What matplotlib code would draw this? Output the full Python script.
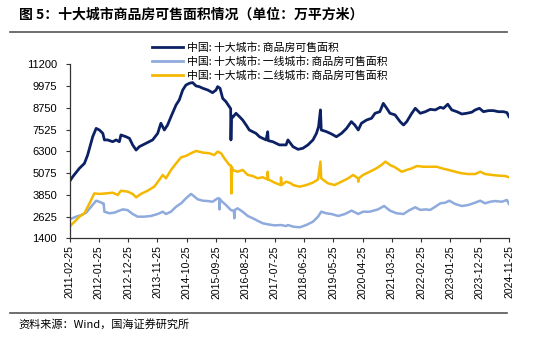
import matplotlib
matplotlib.use("Agg")
import matplotlib.pyplot as plt
from matplotlib.lines import Line2D

plt.rcParams['font.family'] = ['Liberation Sans', 'Noto Sans CJK SC', 'DejaVu Sans']

# x axis: months since 2011-02-25, ticks every 11 months
tick_months = [0, 11, 22, 33, 44, 55, 66, 77, 88, 99, 110, 121, 132, 143, 154, 165]
tick_labels = ['2011-02-25', '2012-01-25', '2012-12-25', '2013-11-25', '2014-10-25',
               '2015-09-25', '2016-08-25', '2017-07-25', '2018-06-25', '2019-05-25',
               '2020-04-25', '2021-03-25', '2022-02-25', '2023-01-25', '2023-12-25',
               '2024-11-25']
y_ticks = [1400, 2625, 3850, 5075, 6300, 7525, 8750, 9975, 11200]

# 十大城市 total
total_m = [0, 1.2, 3.7, 5.6, 6.8, 8.7, 10.0, 11.2, 12.5, 13.1, 14.3, 16.2, 17.5, 18.7, 19.3,
           21.2, 22.5, 23.7, 25.0, 26.2, 28.7, 31.2, 33.1, 34.3, 35.6, 36.8, 38.1, 40.0, 41.2,
           42.5, 43.7, 45.0, 46.2, 47.5, 48.7, 50.0, 51.9, 53.7, 55.0, 55.6, 56.5, 57.5, 58.7,
           60.0, 60.5, 60.6, 60.8, 61.2, 62.5, 63.8, 65.0, 66.3, 67.5, 68.8, 70.0, 71.3, 72.5,
           73.8, 74.4, 74.6, 76.3, 78.8, 81.3, 82.0, 83.9, 85.8, 87.6, 89.5, 91.4, 92.7, 93.5,
           94.2, 94.5, 96.4, 98.3, 100.2, 102.1, 104.0, 105.8, 107.1, 108.4, 109.6, 111.5,
           113.4, 114.7, 116.5, 117.8, 119.1, 120.3, 122.2, 124.1, 125.4, 126.6, 128.5, 129.8,
           131.7, 133.6, 135.4, 137.3, 139.2, 140.4, 142.0, 143.5, 145.4, 147.3, 149.1, 151.0,
           152.3, 153.9, 155.4, 157.3, 159.2, 161.0, 162.9, 164.2, 165.0]
total_v = [4600, 4870, 5340, 5620, 6090, 7120, 7590, 7500, 7310, 6940, 6940, 6840, 6940, 6840, 7220,
           7120, 7030, 6660, 6370, 6560, 6750, 6940, 7310, 7880, 7500, 7780, 8250, 8910, 9190,
           9750, 10030, 10130, 10170, 9980, 9940, 9850, 9750, 9600, 9750, 9940, 9850, 9280, 9100,
           8810, 8700, 6940, 8300, 8200, 8440, 8250, 8060, 7780, 7500, 7400, 7310, 7120, 7030,
           6940, 7400, 6900, 6840, 6660, 6660, 6940, 6560, 6410, 6470, 6660, 6940, 7310, 7690,
           8630, 7500, 7410, 7280, 7120, 7310, 7590, 7970, 7780, 7500, 7880, 8060,
           8160, 8440, 8530, 9000, 8720, 8440, 8350, 7970, 7780, 7970, 8440, 8720,
           8440, 8530, 8660, 8630, 8780, 8720, 8950, 8630, 8530, 8400, 8440, 8500,
           8630, 8720, 8530, 8590, 8590, 8530, 8530, 8480, 8250]

# 一线城市
tier1_m = [0, 2.5, 4.4, 6.3, 8.1, 10.0, 11.2, 12.5, 12.8, 13.1, 15.0, 16.9, 18.7, 20.0, 21.8,
           23.7, 25.6, 28.1, 30.6, 33.1, 35.0, 36.2, 38.1, 40.0, 41.9, 43.7, 45.6, 46.9, 48.1,
           50.0, 51.9, 53.7, 55.6, 56.2, 56.3, 56.5, 56.9, 58.7, 60.6, 61.7, 61.9, 62.1, 63.1,
           65.0, 66.9, 68.8, 70.6, 72.5, 74.4, 76.9, 79.4, 81.3, 82.0, 83.9, 86.4, 88.9, 91.4,
           93.3, 94.5, 96.4, 98.3, 100.9, 103.4, 105.9, 108.4, 110.2, 112.7, 115.8, 118.1,
           120.3, 122.8, 125.4, 127.3, 129.8, 131.7, 133.6, 135.4, 137.3, 139.2, 141.1, 142.6,
           144.8, 147.3, 149.8, 152.3, 154.2, 156.0, 157.9, 159.8, 162.3, 164.2, 165.0]
tier1_v = [2470, 2620, 2710, 2850, 3180, 3520, 3460, 3370, 3370, 2900, 2810, 2850, 2960, 3030, 2990,
           2770, 2620, 2620, 2660, 2770, 2900, 2770, 2900, 3180, 3370, 3650, 3900, 3750, 3600,
           3520, 3500, 3460, 3650, 3650, 3030, 3600, 3520, 3280, 2990, 2950, 2530, 3000, 3090,
           2900, 2660, 2530, 2390, 2250, 2190, 2130, 2150, 2090, 2150, 2060, 2020, 2150, 2340,
           2620, 2900, 2810, 2770, 2660, 2770, 2960, 2770, 2900, 2900, 3030, 3220,
           2960, 2810, 2770, 2960, 3150, 3000, 3030, 3000, 3180, 3370, 3410, 3520,
           3330, 3220, 3280, 3410, 3520, 3370, 3460, 3500, 3460, 3560, 3330]

# 二线城市
tier2_m = [0, 1.9, 3.7, 5.6, 7.5, 9.3, 11.2, 13.7, 16.2, 18.1, 19.3, 21.8, 23.7, 25.0, 26.8,
           29.3, 31.8, 33.7, 35.0, 36.2, 38.1, 40.0, 41.9, 43.7, 45.6, 47.5, 50.0, 52.5, 54.3,
           55.6, 56.9, 58.1, 60.0, 60.6, 60.8, 61.0, 61.2, 63.1, 65.0, 66.9, 68.8, 70.6, 72.5,
           74.3, 74.4, 74.6, 76.9, 79.3, 79.4, 79.6, 81.3, 83.1, 83.9, 86.4, 88.9, 91.4, 93.3,
           94.2, 94.5, 97.0, 99.5, 102.1, 104.6, 106.5, 108.3, 108.4, 108.6, 110.2, 112.7,
           115.2, 117.1, 118.6, 120.3, 122.2, 124.7, 126.6, 128.5, 130.4, 132.9, 135.4, 137.9,
           139.8, 142.3, 144.8, 147.3, 149.8, 152.3, 154.2, 156.0, 158.5, 161.0, 163.5, 165.0]
tier2_v = [2060, 2340, 2620, 2810, 3370, 3930, 3900, 3930, 3970, 3840, 4080, 4030, 3900, 3710, 3900,
           4080, 4310, 4690, 4970, 4780, 5250, 5620, 5960, 6040, 6190, 6320, 6230, 6190, 6090,
           6280, 6190, 5910, 5530, 5500, 3930, 5400, 5250, 5150, 5250, 4970, 4910, 4780, 4840,
           4720, 5150, 4720, 4540, 4400, 4830, 4400, 4590, 4500, 4400, 4310, 4400, 4540, 4720,
           5720, 4780, 4500, 4400, 4590, 4780, 4970, 4780, 4590, 4780, 4970, 5150,
           5340, 5530, 5720, 5530, 5400, 5150, 5250, 5340, 5470, 5430, 5430, 5430,
           5340, 5250, 5150, 5060, 5020, 5020, 5150, 5020, 4970, 4930, 4910, 4840]

labels = ['中国: 十大城市: 商品房可售面积',
          '中国: 十大城市: 一线城市: 商品房可售面积',
          '中国: 十大城市: 二线城市: 商品房可售面积']
colors = ['#0C2164', '#8FAADC', '#F5B800']

fig = plt.figure(figsize=(5.5, 3.4), dpi=100)
ax = fig.add_axes([0.1264, 0.299, 0.7991, 0.512])

ax.plot(tier1_m, tier1_v, color=colors[1], lw=1.8)
ax.plot(tier2_m, tier2_v, color=colors[2], lw=1.8)
ax.plot(total_m, total_v, color=colors[0], lw=2.0)

ax.set_xlim(0, 165)
ax.set_ylim(1400, 11200)
ax.set_yticks(y_ticks)
ax.set_yticklabels([str(v) for v in y_ticks], fontsize=8)
ax.set_xticks(tick_months)
ax.set_xticklabels(tick_labels, rotation=90, fontsize=7.5)
for s in ['top', 'right']:
    ax.spines[s].set_visible(False)
for s in ['left', 'bottom']:
    ax.spines[s].set_color('#333333')
    ax.spines[s].set_linewidth(0.9)
ax.tick_params(direction='out', length=3, width=0.8, color='#333333', pad=2)
ax.tick_params(axis='y', pad=6)

handles = [Line2D([], [], color=c, lw=2) for c in colors]
fig.legend(handles, labels, loc='upper left', bbox_to_anchor=(0.268, 0.89),
           frameon=False, handlelength=2.9, handletextpad=0.4,
           labelspacing=0.32, borderaxespad=0,
           prop={'family': ['Noto Sans CJK SC'], 'size': 7.8})

# title and rules
fig.text(0.035, 0.958, '图 5：十大城市商品房可售面积情况（单位：万平方米）', fontsize=10,
         fontweight='bold', va='center', family=['Noto Sans CJK SC', 'DejaVu Sans'])
fig.add_artist(Line2D([0.018, 0.922], [0.906, 0.906], color='#555555', lw=1.2))
fig.add_artist(Line2D([0.018, 0.922], [0.079, 0.079], color='#555555', lw=1.2))
fig.text(0.033, 0.045, '资料来源：Wind，国海证券研究所', fontsize=8, va='center',
         family=['Noto Sans CJK SC', 'DejaVu Sans'])

fig.savefig('out.png', dpi=100)
